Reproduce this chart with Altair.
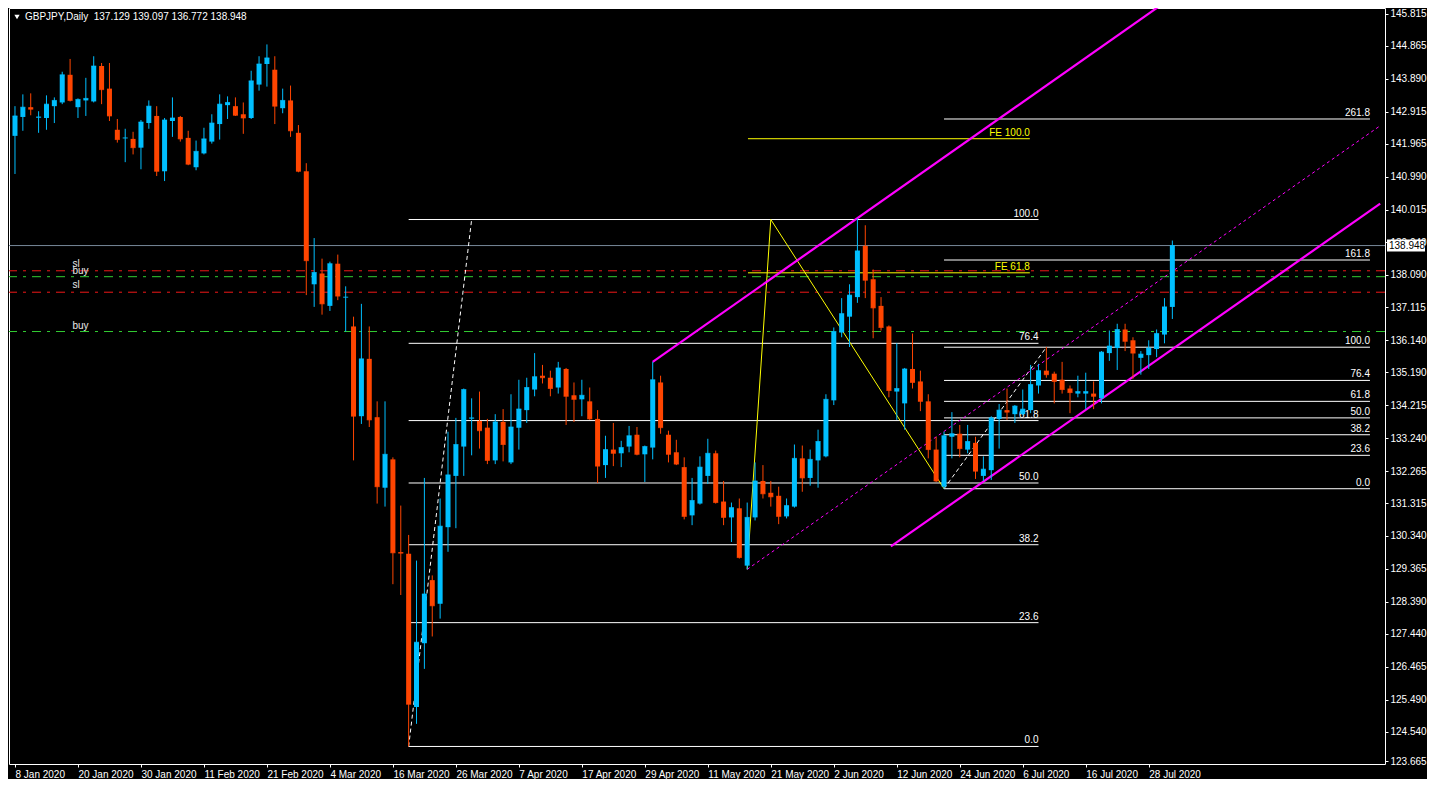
import altair as alt
import pandas as pd

FONT = "Liberation Sans"
W, H = 1376, 756

# ---- data -----------------------------------------------------------------
date_labels = ["8 Jan 2020", "20 Jan 2020", "30 Jan 2020", "11 Feb 2020", "21 Feb 2020",
               "4 Mar 2020", "16 Mar 2020", "26 Mar 2020", "7 Apr 2020", "17 Apr 2020",
               "29 Apr 2020", "11 May 2020", "21 May 2020", "2 Jun 2020", "12 Jun 2020",
               "24 Jun 2020", "6 Jul 2020", "16 Jul 2020", "28 Jul 2020"]
bars_per_label = 8

price_ticks = [123.665, 124.540, 125.490, 126.465, 127.440, 128.390, 129.365, 130.340,
               131.315, 132.265, 133.240, 134.215, 135.190, 136.140, 137.115, 138.090,
               139.040, 140.015, 140.990, 141.965, 142.915, 143.890, 144.865, 145.815]

opens = [142.20, 142.76, 143.05, 142.74, 142.73, 143.08, 143.19, 144.01, 143.05, 143.25,
         143.22, 144.27, 143.60, 142.38, 142.13, 142.11, 141.85, 142.58, 142.79, 141.15,
         142.64, 142.76, 142.14, 141.27, 141.68, 142.03, 142.55, 143.11, 143.08, 142.84,
         142.73, 143.72, 144.33, 144.16, 143.02, 143.25, 142.29, 141.15, 137.80, 138.12,
         137.16, 138.41, 137.41, 136.55, 133.89, 135.59, 133.86, 131.77, 132.61, 129.86,
         129.81, 125.27, 127.16, 129.03, 128.33, 130.60, 132.12, 132.99, 133.82, 133.75,
         133.55, 132.58, 133.72, 132.52, 133.55, 134.07, 134.68, 135.09, 135.03, 134.74,
         135.29, 134.51, 134.39, 134.33, 133.81, 132.44, 132.90, 132.79, 132.99, 133.34,
         132.76, 132.96, 134.89, 133.34, 132.82, 132.38, 130.95, 131.30, 132.12, 132.79,
         131.36, 130.89, 131.16, 129.46, 130.89, 131.97, 131.62, 131.53, 130.92, 131.21,
         132.64, 132.06, 132.58, 132.70, 134.36, 136.37, 136.84, 137.42, 138.94, 137.95,
         137.16, 136.55, 134.62, 134.27, 135.29, 134.92, 134.33, 132.90, 131.80, 133.28,
         133.37, 132.90, 133.10, 132.12, 132.29, 133.81, 134.07, 133.95, 133.95, 134.07,
         134.80, 135.24, 135.15, 134.97, 134.71, 134.56, 134.56, 134.56, 134.42, 135.76,
         135.91, 136.46, 136.14, 135.62, 135.70, 135.88, 136.31, 137.129]
highs = [143.08, 143.43, 143.46, 142.93, 143.40, 143.34, 144.10, 144.48, 143.31, 143.92,
         144.56, 144.36, 144.36, 142.70, 142.41, 142.32, 142.67, 143.25, 143.08, 142.73,
         143.34, 142.79, 142.35, 142.06, 142.44, 142.84, 143.43, 143.37, 143.34, 143.19,
         144.13, 144.56, 144.91, 144.56, 143.60, 143.69, 142.52, 141.39, 139.17, 138.56,
         138.47, 138.68, 137.74, 136.84, 137.22, 136.55, 134.33, 134.33, 132.67, 131.24,
         130.37, 129.61, 132.06, 129.17, 131.45, 133.43, 133.84, 134.71, 134.42, 134.62,
         133.81, 133.95, 134.10, 134.54, 134.97, 135.03, 135.76, 135.41, 135.24, 135.50,
         135.32, 134.89, 134.97, 134.74, 134.07, 133.31, 133.69, 133.16, 133.60, 133.57,
         133.02, 135.50, 135.09, 133.46, 133.19, 132.67, 132.06, 132.70, 133.22, 132.87,
         131.97, 131.33, 131.45, 131.33, 132.52, 132.44, 131.97, 131.80, 131.45, 133.05,
         133.02, 132.90, 133.49, 134.54, 136.52, 137.39, 137.80, 139.75, 139.55, 138.24,
         137.42, 136.58, 136.05, 135.32, 136.34, 135.24, 134.54, 133.28, 133.43, 134.01,
         133.63, 133.63, 133.28, 132.70, 133.89, 134.25, 134.71, 134.22, 134.68, 135.41,
         135.44, 135.94, 135.21, 135.50, 134.80, 135.09, 135.18, 134.92, 135.82, 136.43,
         136.63, 136.63, 136.23, 135.82, 136.14, 136.46, 137.39, 139.097]
lows = [141.07, 142.35, 142.81, 142.29, 142.38, 142.58, 143.14, 143.22, 142.73, 142.79,
        143.19, 143.14, 142.64, 142.00, 141.42, 141.65, 141.21, 142.41, 141.01, 140.86,
        142.17, 142.03, 141.33, 141.18, 141.65, 141.97, 142.09, 142.70, 142.79, 142.26,
        142.70, 143.54, 143.66, 142.55, 142.87, 142.17, 141.12, 137.48, 137.13, 136.90,
        137.01, 137.33, 136.40, 132.58, 133.66, 133.57, 131.30, 131.21, 128.91, 128.59,
        124.10, 124.77, 126.40, 127.36, 127.89, 129.87, 130.57, 132.12, 132.73, 132.93,
        132.47, 132.47, 132.55, 132.47, 132.90, 133.69, 134.48, 134.86, 134.48, 134.56,
        133.63, 133.72, 133.89, 133.78, 131.91, 132.06, 132.41, 132.38, 132.82, 132.73,
        131.94, 132.61, 133.37, 132.52, 132.44, 130.83, 130.66, 131.27, 131.88, 131.30,
        130.66, 130.16, 129.67, 129.35, 130.80, 131.45, 131.21, 130.69, 130.86, 131.18,
        131.65, 131.83, 131.77, 132.67, 134.22, 136.23, 135.94, 137.25, 137.39, 136.20,
        136.43, 134.45, 133.78, 133.49, 134.71, 134.04, 132.64, 131.94, 131.74, 132.64,
        132.67, 132.79, 132.03, 131.97, 132.00, 132.93, 133.78, 133.69, 133.92, 133.98,
        134.56, 135.03, 134.27, 134.56, 133.98, 134.45, 134.10, 134.10, 134.27, 135.53,
        135.26, 135.82, 135.00, 135.12, 135.29, 135.64, 136.05, 136.772]
closes = [142.79, 143.05, 142.99, 142.76, 143.14, 143.25, 144.01, 143.25, 143.28, 143.31,
          144.27, 143.57, 142.79, 142.09, 142.14, 141.85, 142.61, 143.08, 141.15, 142.67,
          142.73, 142.11, 141.36, 141.74, 142.11, 142.58, 143.14, 143.19, 142.81, 142.73,
          143.83, 144.33, 144.51, 143.08, 143.25, 142.35, 141.15, 138.50, 138.15, 137.22,
          138.41, 137.45, 137.42, 133.89, 135.59, 133.78, 131.80, 132.76, 129.84, 129.83,
          125.35, 127.19, 128.62, 128.27, 130.63, 132.15, 133.05, 134.68, 133.84, 133.46,
          132.58, 133.72, 133.05, 133.57, 134.10, 134.74, 135.06, 135.03, 134.71, 135.32,
          134.48, 134.39, 134.51, 133.81, 132.41, 132.90, 132.79, 132.96, 133.31, 132.76,
          132.99, 134.97, 133.55, 132.76, 132.47, 130.92, 131.39, 132.38, 132.79, 131.33,
          130.89, 131.18, 129.70, 130.89, 131.97, 131.59, 131.50, 130.92, 131.24, 132.64,
          132.06, 132.61, 133.14, 134.39, 136.40, 136.93, 137.48, 138.79, 137.92, 137.10,
          136.52, 134.65, 134.71, 135.29, 134.89, 134.33, 132.90, 131.97, 133.31, 133.37,
          132.93, 133.14, 132.26, 132.32, 133.84, 134.07, 134.01, 134.19, 134.10, 134.83,
          135.24, 135.12, 134.92, 134.68, 134.59, 134.62, 134.62, 134.48, 135.79, 135.97,
          136.46, 136.11, 135.76, 135.73, 135.91, 136.34, 137.13, 138.948]

# Fibonacci retracement 1 (Mar low -> Jun high)
fib1_start, fib1_end = 50, 130
fib1_labels = ["0.0", "23.6", "38.2", "50.0", "61.8", "76.4", "100.0"]
fib1_prices = [124.10, 127.77, 130.08, 131.91, 133.76, 136.05, 139.72]
fib1_trend_i = [50, 58]
fib1_trend_p = [124.10, 139.72]

# Fibonacci retracement 2 (Jun low -> Jul high)
fib2_start, fib2_end = 118, 172.1
fib2_labels = ["0.0", "23.6", "38.2", "50.0", "61.8", "76.4", "100.0", "161.8", "261.8"]
fib2_prices = [131.74, 132.73, 133.34, 133.84, 134.33, 134.95, 135.935, 138.52, 142.70]
fib2_trend_i = [118, 131]
fib2_trend_p = [131.74, 135.935]

# Fibonacci expansion
fe_start, fe_end = 93.1, 128.9
fe_labels = ["FE 61.8", "FE 100.0"]
fe_prices = [138.14, 142.115]
fe_path_i = [93, 96, 118]
fe_path_p = [129.35, 139.72, 131.74]

# horizontal order lines
sl_prices = [138.20, 137.565]
buy_prices = [138.025, 136.40]
hl_label_i = 7.3

# price channel
ch_upper_i, ch_upper_p = [81.0, 145.2], [135.50, 146.02]
ch_lower_i, ch_lower_p = [111.25, 173.4], [130.03, 140.19]
ch_mid_i, ch_mid_p = [93.0, 173.4], [129.35, 142.50]

symbol = "GBPJPY,Daily"

# ---- tables -------------------------------------------------------------------
n = len(opens)
bars = pd.DataFrame({"i": list(range(n)), "o": opens, "h": highs, "l": lows, "c": closes})
up = bars[bars["c"] > bars["o"]]
down = bars[bars["c"] <= bars["o"]]

fib1 = pd.DataFrame({"p": fib1_prices, "label": fib1_labels, "x0": fib1_start, "x1": fib1_end})
fib2 = pd.DataFrame({"p": fib2_prices, "label": fib2_labels, "x0": fib2_start, "x1": fib2_end})
fe = pd.DataFrame({"p": fe_prices, "label": fe_labels, "x0": fe_start, "x1": fe_end})
fe_path = pd.DataFrame({"x": fe_path_i, "p": fe_path_p, "k": list(range(len(fe_path_i)))})
trends = pd.DataFrame({"x": fib1_trend_i + fib2_trend_i, "p": fib1_trend_p + fib2_trend_p,
                       "g": ["a", "a", "b", "b"]})
sl_df = pd.DataFrame({"p": sl_prices, "kind": "sl", "x": hl_label_i})
buy_df = pd.DataFrame({"p": buy_prices, "kind": "buy", "x": hl_label_i})
upper = pd.DataFrame({"x": ch_upper_i, "p": ch_upper_p})
lower = pd.DataFrame({"x": ch_lower_i, "p": ch_lower_p})
mid = pd.DataFrame({"x": ch_mid_i, "p": ch_mid_p})
last = pd.DataFrame({"p": [closes[-1]], "t": [f"{closes[-1]:.3f}"]})
header = pd.DataFrame({
    "t": [symbol + "\u00a0\u00a0" + f"{opens[-1]:.3f} {highs[-1]:.3f} {lows[-1]:.3f} {closes[-1]:.3f}"]})

# ---- scales & axes -------------------------------------------------------------
xs = alt.Scale(domain=[-0.125, 173.375], nice=False, zero=False)
ys = alt.Scale(domain=[123.58, 145.99], nice=False, zero=False)
label_arr = "[" + ",".join(f"'{d}'" for d in date_labels) + "]"
xaxis = alt.Axis(values=[k * bars_per_label for k in range(len(date_labels))],
                 labelExpr=label_arr + f"[round(datum.value / {bars_per_label})]",
                 title=None, grid=False, domain=False, labelAlign="left",
                 labelColor="#FFFFFF", tickColor="#FFFFFF", tickSize=3, labelPadding=2,
                 labelFont=FONT, labelFontSize=10, labelOverlap=False, labelFlush=False,
                 labelBound=False)
yaxis = alt.Axis(orient="right", values=price_ticks, format=".3f", title=None, grid=False,
                 domain=False, labelColor="#FFFFFF", tickColor="#FFFFFF", tickSize=3,
                 labelPadding=2, labelFont=FONT, labelFontSize=10, labelOverlap=False,
                 labelFlush=False)


def X(f):
    return alt.X(f, scale=xs, axis=xaxis)


def Y(f):
    return alt.Y(f, scale=ys, axis=yaxis)


def level_layers(df, color, text_color):
    rules = alt.Chart(df).mark_rule(color=color, strokeWidth=1).encode(
        x=X("x0:Q"), x2="x1:Q", y=Y("p:Q"))
    texts = alt.Chart(df).mark_text(align="right", baseline="bottom", dy=-1, font=FONT,
                                    fontSize=10, color=text_color).encode(
        x=X("x1:Q"), y=Y("p:Q"), text="label:N")
    return rules, texts


f1r, f1t = level_layers(fib1, "#FFFFFF", "#FFFFFF")
f2r, f2t = level_layers(fib2, "#FFFFFF", "#FFFFFF")
fer, fet = level_layers(fe, "#FFFF00", "#FFFF00")


def hline_layers(df, color, dy):
    rule = alt.Chart(df).mark_rule(color=color, strokeWidth=1, strokeDash=[9, 6, 3, 6]).encode(
        y=Y("p:Q"))
    txt = alt.Chart(df).mark_text(align="left", baseline="bottom", dy=dy, font=FONT,
                                  fontSize=10, color="#E8E8E8").encode(
        x=X("x:Q"), y=Y("p:Q"), text="kind:N")
    return rule, txt


slr, slt = hline_layers(sl_df, "#F01818", -2)
byr, byt = hline_layers(buy_df, "#32CD32", -1)

price_line = alt.Chart(last).mark_rule(color="#778899", strokeWidth=1).encode(y=Y("p:Q"))

fe_line = alt.Chart(fe_path).mark_line(color="#FFFF00", strokeWidth=1).encode(
    x=X("x:Q"), y=Y("p:Q"), order="k:Q")
trend_lines = alt.Chart(trends).mark_line(color="#FFFFFF", strokeWidth=1, strokeDash=[4, 3]).encode(
    x=X("x:Q"), y=Y("p:Q"), detail="g:N")

ch_up = alt.Chart(upper).mark_line(color="#FF00FF", strokeWidth=2.2, clip=True).encode(
    x=X("x:Q"), y=Y("p:Q"))
ch_lo = alt.Chart(lower).mark_line(color="#FF00FF", strokeWidth=2.2, clip=True).encode(
    x=X("x:Q"), y=Y("p:Q"))
ch_mid = alt.Chart(mid).mark_line(color="#FF00FF", strokeWidth=1, strokeDash=[3, 3], clip=True).encode(
    x=X("x:Q"), y=Y("p:Q"))

head_tri = alt.Chart(header).mark_point(shape="triangle-down", filled=True, color="#FFFFFF",
                                        size=28, opacity=1).encode(
    x=alt.value(8), y=alt.value(9))
head_txt = alt.Chart(header).mark_text(align="left", baseline="middle", font=FONT, fontSize=10,
                                       color="#FFFFFF").encode(
    x=alt.value(16), y=alt.value(9), text="t:N")


def candle_layers(df, color):
    wick = alt.Chart(df).mark_rule(strokeWidth=1, color=color).encode(
        x=X("i:Q"), y=Y("l:Q"), y2="h:Q")
    body = alt.Chart(df).mark_bar(size=5, color=color).encode(
        x=X("i:Q"), y=Y("o:Q"), y2="c:Q")
    flat = alt.Chart(df).mark_tick(orient="horizontal", size=5, thickness=1, color=color).encode(
        x=X("i:Q"), y=Y("c:Q"))
    return [wick, body, flat]


candles = candle_layers(up, "#00BFFF") + candle_layers(down, "#FF4500")

box = alt.Chart(last).mark_rect(color="#FFFFFF", yOffset=-6, y2Offset=6).encode(
    x=alt.value(W + 2), x2=alt.value(W + 40), y=Y("p:Q"), y2="p:Q")
box_txt = alt.Chart(last).mark_text(align="left", baseline="middle", font=FONT, fontSize=10,
                                    color="#000000").encode(
    x=alt.value(W + 4), y=Y("p:Q"), text="t:N")

chart = alt.layer(
    f1r, f2r, fer, slr, byr, price_line, fe_line, trend_lines, ch_up, ch_lo, ch_mid,
    f1t, f2t, fet, slt, byt, head_tri, head_txt,
    *candles, box, box_txt,
    padding=0,
).properties(width=W, height=H, background="#000000").configure_view(
    stroke="#FFFFFF", strokeWidth=1)

chart.save("out.html", embed_options={"renderer": "svg", "actions": False})
